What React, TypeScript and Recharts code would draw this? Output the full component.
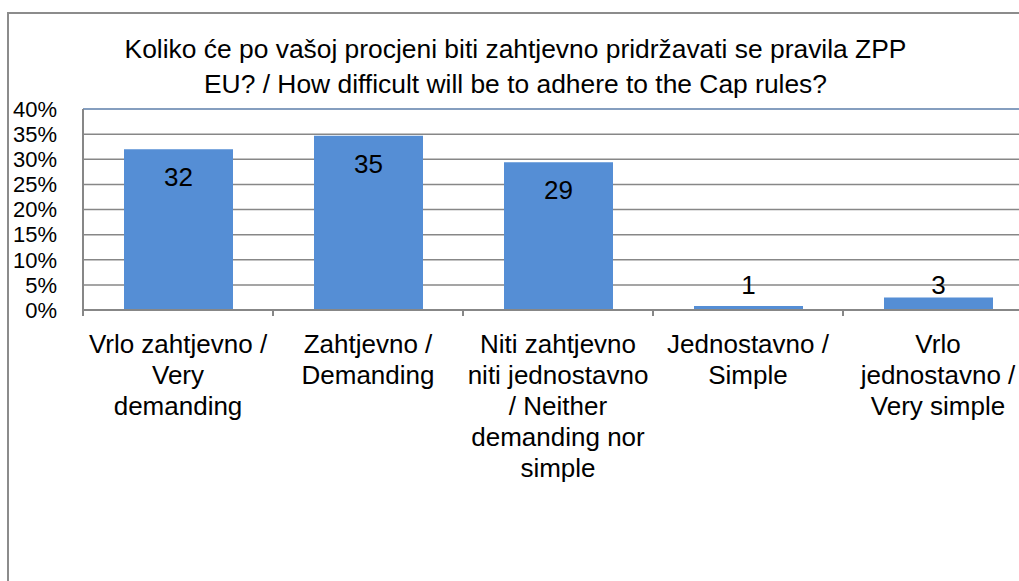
import React from 'react';
import { BarChart, Bar, XAxis, YAxis, CartesianGrid, LabelList, ReferenceLine } from 'recharts';

const titleLines = [
  'Koliko će po vašoj procjeni biti zahtjevno pridržavati se pravila ZPP',
  'EU? / How difficult will be to adhere to the Cap rules?',
];
const categories = [
  'Vrlo zahtjevno / Very demanding',
  'Zahtjevno / Demanding',
  'Niti zahtjevno niti jednostavno / Neither demanding nor simple',
  'Jednostavno / Simple',
  'Vrlo jednostavno / Very simple',
];
const categoryLines = [
  ['Vrlo zahtjevno /', 'Very', 'demanding'],
  ['Zahtjevno /', 'Demanding'],
  ['Niti zahtjevno', 'niti jednostavno', '/ Neither', 'demanding nor', 'simple'],
  ['Jednostavno /', 'Simple'],
  ['Vrlo', 'jednostavno /', 'Very simple'],
];
const values = [32.0, 34.7, 29.4, 0.8, 2.5];
const valueLabels = ['32', '35', '29', '1', '3'];
const yTicks = [0, 5, 10, 15, 20, 25, 30, 35, 40];

const data = categories.map((name, i) => ({ name, value: values[i], label: valueLabels[i] }));

const FONT = '"Liberation Sans", Arial, sans-serif';
const GRID = '#878787';

const CategoryTick = (props: any) => {
  const { x, y, payload } = props;
  const idx = categories.indexOf(payload.value);
  const lines = categoryLines[idx] || [];
  const half = payload.offset != null && payload.offset > 0 ? payload.offset : 95;
  return (
    <g>
      <line x1={x - half} x2={x - half} y1={y} y2={y + 6} stroke={GRID} strokeWidth={2} />
      <text textAnchor="middle" fontFamily={FONT} fontSize={26} fill="#000">
        {lines.map((l, i) => (
          <tspan key={i} x={x} y={y + 43 + i * 31}>{l}</tspan>
        ))}
      </text>
    </g>
  );
};

const ValueLabel = (props: any) => {
  const { x, y, width, height, index } = props;
  const cx = x + width / 2;
  const cy = Math.min(y + 28, y + height - 25);
  return (
    <text x={cx} y={cy} textAnchor="middle" dominantBaseline="central" fontFamily={FONT} fontSize={26} fill="#000">
      {valueLabels[index]}
    </text>
  );
};

export default function App() {
  return (
    <div style={{ position: 'fixed', left: 0, top: 0, width: 1019, height: 581, overflow: 'hidden', background: '#fff' }}>
      <div style={{ position: 'absolute', left: 7, top: 12, width: 1200, height: 800, border: '2px solid #8c8c8c', boxSizing: 'border-box' }} />
      <div style={{ position: 'absolute', left: 0, top: 32, width: 1031, textAlign: 'center', fontFamily: FONT, fontSize: 26.4, lineHeight: '35px', color: '#000' }}>
        {titleLines.map((t, i) => (
          <div key={i}>{t}</div>
        ))}
      </div>
      <div style={{ position: 'absolute', left: 0, top: 0 }}>
        <BarChart width={1060} height={581} data={data} margin={{ top: 109, right: 27, left: 0, bottom: 71 }}>
          <CartesianGrid horizontal vertical={false} stroke={GRID} strokeWidth={1.5} />
          <XAxis
            dataKey="name"
            interval={0}
            height={200}
            tickLine={false}
            tickSize={0}
            tickMargin={0}
            axisLine={{ stroke: GRID, strokeWidth: 2 }}
            tick={<CategoryTick />}
          />
          <YAxis
            domain={[0, 40]}
            ticks={yTicks}
            interval={0}
            width={83}
            tickLine={false}
            tickSize={6}
            tickMargin={20}
            tickFormatter={(v: number) => `${v}%`}
            axisLine={{ stroke: GRID, strokeWidth: 2 }}
            tick={{ fill: '#000', fontSize: 22, fontFamily: FONT }}
          />
          <ReferenceLine y={40} stroke="#7b9cc9" strokeWidth={1.5} />
          <Bar dataKey="value" fill="#558ed5" barSize={109} isAnimationActive={false}>
            <LabelList dataKey="value" content={<ValueLabel />} />
          </Bar>
        </BarChart>
      </div>
    </div>
  );
}
